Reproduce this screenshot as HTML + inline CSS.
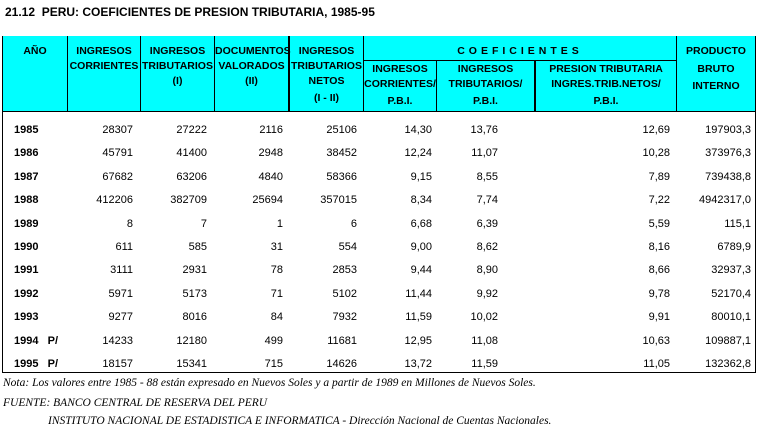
<!DOCTYPE html>
<html><head><meta charset="utf-8"><style>
body{margin:0;width:758px;height:427px;background:#fff;position:relative;overflow:hidden;font-family:"Liberation Sans",Arial,sans-serif;color:#000}
.a{position:absolute;white-space:nowrap}
.t{font-weight:bold;font-size:12px}
.hd{position:absolute;top:36px;height:75px;background:#00ffff}
.h{position:absolute;font-weight:bold;font-size:10.5px;text-align:center;line-height:15px;white-space:nowrap}
.v{position:absolute;width:1px;background:#000}
.d{position:absolute;font-size:11px;text-align:right;white-space:nowrap}
.y{position:absolute;font-size:11px;font-weight:bold;left:14px}
.n{position:absolute;font-family:"Liberation Serif",serif;font-style:italic;font-size:11.5px;white-space:nowrap}
</style></head><body>
<div class="a t" style="left:5px;top:5px">21.12&nbsp; PERU: COEFICIENTES DE PRESION TRIBUTARIA, 1985-95</div>
<div style="position:absolute;left:2px;top:36px;width:752px;height:335px;border:1px solid #000"></div>
<div class="hd" style="left:3px;width:752px;border-bottom:1px solid #000"></div>
<div class="v" style="left:67px;top:36px;height:75px"></div>
<div class="v" style="left:140px;top:36px;height:75px"></div>
<div class="v" style="left:214px;top:36px;height:75px"></div>
<div class="v" style="left:288px;top:36px;height:75px;width:2px"></div>
<div class="v" style="left:363px;top:36px;height:75px"></div>
<div class="v" style="left:436px;top:60px;height:51px"></div>
<div class="v" style="left:534px;top:60px;height:51px;width:2px"></div>
<div class="v" style="left:676px;top:36px;height:75px"></div>
<div style="position:absolute;left:363px;top:60px;width:313px;height:1px;background:#000"></div>
<div class="h" style="left:3px;width:64px;top:44px">AÑO</div>
<div class="h" style="left:68px;width:72px;top:44px">INGRESOS<br>CORRIENTES</div>
<div class="h" style="left:141px;width:73px;top:44px">INGRESOS<br>TRIBUTARIOS<br>(I)</div>
<div class="h" style="left:215px;width:73px;top:44px">DOCUMENTOS<br>VALORADOS<br>(II)</div>
<div class="h" style="left:290px;width:73px;top:44px">INGRESOS<br>TRIBUTARIOS<br>NETOS<br><span style="line-height:19px">(I - II)</span></div>
<div class="h" style="left:364px;width:312px;top:44px;letter-spacing:4px">COEFICIENTES</div>
<div class="h" style="left:364px;width:72px;top:62px">INGRESOS<br>CORRIENTES/<br><span style="line-height:19px">P.B.I.</span></div>
<div class="h" style="left:437px;width:97px;top:62px">INGRESOS<br>TRIBUTARIOS/<br><span style="line-height:19px">P.B.I.</span></div>
<div class="h" style="left:536px;width:140px;top:62px">PRESION TRIBUTARIA<br>INGRES.TRIB.NETOS/<br><span style="line-height:19px">P.B.I.</span></div>
<div class="h" style="left:677px;width:78px;top:44px">PRODUCTO<br><span style="line-height:20px">BRUTO</span><br>INTERNO</div>
<div id="rows"></div>
<script>
var R=[["1985","28307","27222","2116","25106","14,30","13,76","12,69","197903,3"],
["1986","45791","41400","2948","38452","12,24","11,07","10,28","373976,3"],
["1987","67682","63206","4840","58366","9,15","8,55","7,89","739438,8"],
["1988","412206","382709","25694","357015","8,34","7,74","7,22","4942317,0"],
["1989","8","7","1","6","6,68","6,39","5,59","115,1"],
["1990","611","585","31","554","9,00","8,62","8,16","6789,9"],
["1991","3111","2931","78","2853","9,44","8,90","8,66","32937,3"],
["1992","5971","5173","71","5102","11,44","9,92","9,78","52170,4"],
["1993","9277","8016","84","7932","11,59","10,02","9,91","80010,1"],
["1994&nbsp;&nbsp; P/","14233","12180","499","11681","12,95","11,08","10,63","109887,1"],
["1995&nbsp;&nbsp; P/","18157","15341","715","14626","13,72","11,59","11,05","132362,8"]];
var X=[133,207,283,357,432,498,670,751],h="";
R.forEach(function(r,i){var t=124+i*23.4;
h+='<div class="y" style="top:'+t+'px">'+r[0]+'</div>';
for(var j=1;j<9;j++)h+='<div class="d" style="top:'+t+'px;right:'+(758-X[j-1])+'px">'+r[j]+'</div>';});
document.getElementById("rows").innerHTML=h;
</script>
<div class="n" style="left:3px;top:377px">Nota: Los valores entre 1985 - 88 están expresado en Nuevos Soles y a partir de 1989 en Millones de Nuevos Soles.</div>
<div class="n" style="left:3px;top:397px">FUENTE: BANCO CENTRAL DE RESERVA DEL PERU</div>
<div class="n" style="left:48px;top:415px">INSTITUTO NACIONAL DE ESTADISTICA E INFORMATICA - Dirección Nacional de Cuentas Nacionales.</div>
</body></html>
